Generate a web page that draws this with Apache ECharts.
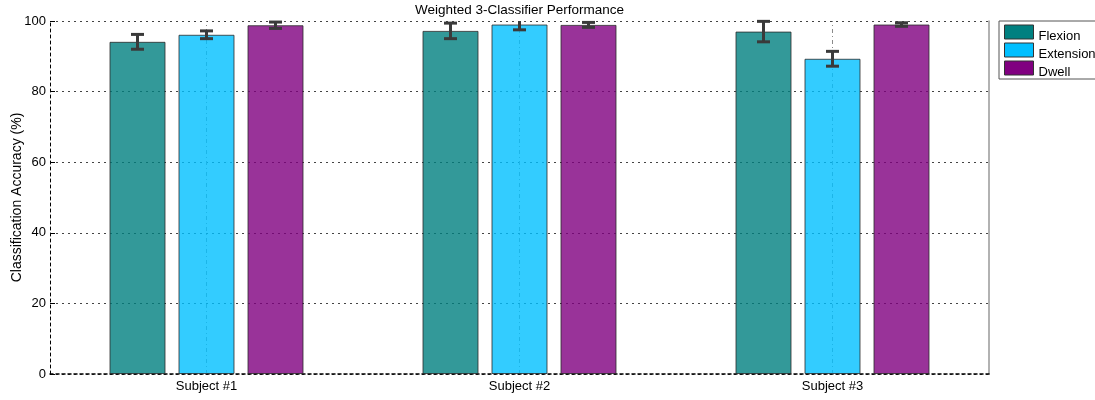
<!DOCTYPE html>
<html>
<head>
<meta charset="utf-8">
<script src="https://cdn.jsdelivr.net/npm/echarts@6/dist/echarts.min.js"></script>
<style>
html,body{margin:0;padding:0;background:#fff;}
#chart{width:1095px;height:400px;}
</style>
</head>
<body>
<div id="chart"></div>
<script>
const categories = ['Subject #1', 'Subject #2', 'Subject #3'];
const seriesNames = ['Flexion', 'Extension', 'Dwell'];
const flexion = [94.1, 97.2, 97.0];
const flexionErr = [2.1, 2.2, 2.9];
const extension = [96.1, 99.0, 89.3];
const extensionErr = [1.1, 1.5, 2.1];
const dwell = [98.8, 98.9, 99.0];
const dwellErr = [0.9, 0.7, 0.5];
const yTicks = [0, 20, 40, 60, 80, 100];

const colors = ['#008080', '#00bfff', '#800080'];
const values = [flexion, extension, dwell];
const errs = [flexionErr, extensionErr, dwellErr];
const BAR_W = 56, BAR_GAP = 13;
const FONT = 'Liberation Sans, Arial, sans-serif';

const chart = echarts.init(document.getElementById('chart'), null, {renderer: 'canvas'});

const series = [];
series.push({
  type: 'line', data: [], z: 1, silent: true,
  markLine: {
    z: 1, silent: true, symbol: 'none', animation: false,
    label: {show: false},
    lineStyle: {color: '#8a8a8a', width: 1, type: [4, 3, 1, 3]},
    data: categories.map(c => ({xAxis: c}))
  }
});
seriesNames.forEach((name, s) => {
  series.push({
    name: name, type: 'bar', z: 2,
    barWidth: BAR_W, barGap: (BAR_GAP / BAR_W * 100) + '%',
    itemStyle: {color: colors[s], opacity: 0.8, borderColor: '#2a2a2a', borderWidth: 1},
    data: values[s]
  });
});
seriesNames.forEach((name, s) => {
  series.push({
    type: 'custom', z: 5, silent: true,
    data: values[s].map((v, i) => [i, v, errs[s][i]]),
    renderItem: function (params, api) {
      const i = api.value(0), v = api.value(1), e = api.value(2);
      const cs = params.coordSys;
      const off = (s - 1) * (BAR_W + BAR_GAP);
      const x = api.coord([i, v])[0] + off;
      const yHi = api.coord([i, v + e])[1];
      const yLo = api.coord([i, v - e])[1];
      const top = Math.max(yHi, cs.y);
      const bot = Math.min(yLo, cs.y + cs.height);
      const st = {stroke: '#3a3a3a', lineWidth: 3};
      const children = [{type: 'line', shape: {x1: x, y1: top, x2: x, y2: bot}, style: st}];
      const cw = 6.5;
      if (yHi >= cs.y) children.push({type: 'line', shape: {x1: x - cw, y1: yHi, x2: x + cw, y2: yHi}, style: st});
      if (yLo <= cs.y + cs.height) children.push({type: 'line', shape: {x1: x - cw, y1: yLo, x2: x + cw, y2: yLo}, style: st});
      return {type: 'group', children: children};
    }
  });
});

chart.setOption({
  animation: false,
  backgroundColor: '#fff',
  title: {
    text: 'Weighted 3-Classifier Performance',
    left: 519.5, top: 3, padding: 0, textAlign: 'center',
    textStyle: {fontFamily: FONT, fontSize: 13.5, fontWeight: 'normal', color: '#000', lineHeight: 15}
  },
  legend: {
    orient: 'vertical', left: 999, top: 21,
    itemWidth: 29, itemHeight: 14, itemGap: -4,
    padding: [0, 30, 0, 5],
    borderColor: '#555', borderWidth: 1, backgroundColor: '#fff',
    icon: 'rect',
    formatter: '{a|{name}}',
    textStyle: {
      fontFamily: FONT, fontSize: 13, color: '#000',
      rich: {a: {fontFamily: FONT, fontSize: 13, color: '#000', height: 14, lineHeight: 14, padding: [8, 0, 0, 0]}}
    },
    data: seriesNames.map((n, s) => ({name: n, itemStyle: {color: colors[s], opacity: 1, borderColor: '#333', borderWidth: 1}}))
  },
  grid: {left: 50, right: 106, top: 21, bottom: 26, containLabel: false, outerBoundsMode: 'none'},
  xAxis: {
    type: 'category', data: categories,
    axisLine: {lineStyle: {color: '#000', width: 1.5, type: [3, 3]}},
    axisTick: {show: false},
    splitLine: {show: false},
    axisLabel: {fontFamily: FONT, fontSize: 13, color: '#000', margin: 6}
  },
  yAxis: [{
    type: 'value', min: yTicks[0], max: yTicks[yTicks.length - 1], interval: yTicks[1] - yTicks[0],
    axisLine: {show: true, lineStyle: {color: '#000', width: 1, type: [3, 3]}},
    axisTick: {show: true, inside: true, length: 5, lineStyle: {color: '#000'}},
    axisLabel: {fontFamily: FONT, fontSize: 13, color: '#000', margin: 4},
    splitLine: {show: true, lineStyle: {color: '#444', width: 1, type: [2, 4]}},
    name: 'Classification Accuracy (%)', nameLocation: 'middle', nameGap: 26, nameMoveOverlap: false,
    nameTextStyle: {fontFamily: FONT, fontSize: 14, color: '#000'}
  }, {
    type: 'value', position: 'right', min: 0, max: 100, interval: 20,
    axisLine: {show: true, lineStyle: {color: '#999', width: 1.5}},
    axisTick: {show: false}, axisLabel: {show: false}, splitLine: {show: false}
  }],
  series: series
});
</script>
</body>
</html>
